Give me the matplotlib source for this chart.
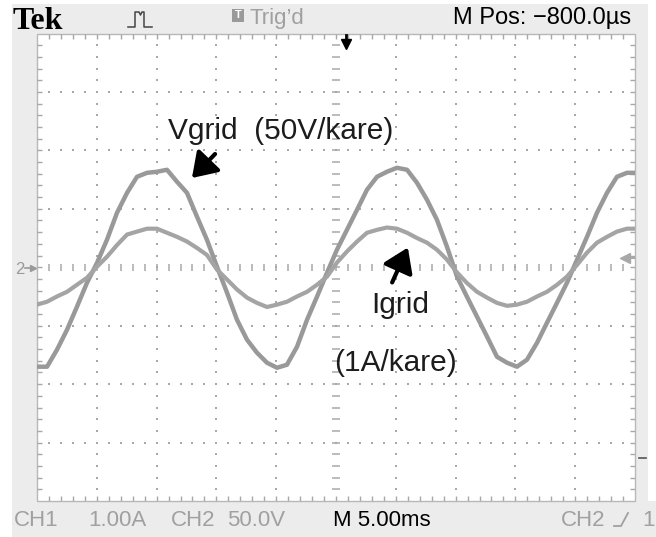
import matplotlib
matplotlib.use("Agg")
import matplotlib.pyplot as plt
from matplotlib.patches import Rectangle, FancyArrowPatch
import numpy as np

# ---------------- data (read from the screen) ----------------
# time in ms from the left edge of the screen (5 ms/div, 10 div)
t_ms = [0.00, 0.84, 1.67, 2.51, 3.34, 4.18, 5.02, 5.85, 6.69, 7.53,
        8.36, 9.20, 10.03, 10.87, 11.71, 12.54, 13.38, 14.21, 15.05, 15.89,
        16.72, 17.56, 18.39, 19.23, 20.07, 20.90, 21.74, 22.58, 23.41, 24.25,
        25.08, 25.92, 26.76, 27.59, 28.43, 29.26, 30.10, 30.94, 31.77, 32.61,
        33.44, 34.28, 35.12, 35.95, 36.79, 37.63, 38.46, 39.30, 40.13, 40.97,
        41.81, 42.64, 43.48, 44.31, 45.15, 45.99, 46.82, 47.66, 48.49, 49.33,
        50.00]
# CH2 : grid voltage in V (50 V/div)
vgrid_V = [-85.1, -85.1, -70.6, -53.5, -33.8, -13.3, 3.8, 23.5, 46.6, 63.7,
           77.4, 80.8, 81.7, 83.4, 73.1, 63.7, 43.2, 23.5, 0.4, -21.8,
           -44.9, -62.0, -73.1, -81.7, -86.0, -83.4, -68.0, -44.9, -25.2, -4.7,
           15.0, 32.1, 49.2, 66.3, 77.4, 81.7, 85.1, 83.4, 72.3, 57.7,
           40.6, 17.5, -8.1, -25.2, -42.3, -59.4, -76.6, -81.7, -85.1, -79.1,
           -64.6, -47.5, -30.4, -13.3, 6.4, 26.1, 46.6, 63.7, 77.4, 80.8,
           80.8]
# CH1 : grid current in A (1 A/div)
igrid_A = [-0.64, -0.59, -0.50, -0.42, -0.30, -0.18, 0.01, 0.18, 0.38, 0.56,
           0.61, 0.66, 0.66, 0.59, 0.52, 0.44, 0.33, 0.21, -0.04, -0.21,
           -0.38, -0.52, -0.61, -0.68, -0.64, -0.59, -0.50, -0.42, -0.30, -0.16,
           0.08, 0.27, 0.44, 0.59, 0.64, 0.68, 0.66, 0.59, 0.50, 0.42,
           0.30, 0.13, -0.09, -0.27, -0.42, -0.52, -0.61, -0.66, -0.64, -0.59,
           -0.50, -0.42, -0.30, -0.16, 0.04, 0.25, 0.42, 0.52, 0.61, 0.66,
           0.66]

time_per_div = 5.0     # ms
ch2_per_div = 50.0     # V
ch1_per_div = 1.0      # A

# ---------------- figure ----------------
W, H = 656, 537
fig = plt.figure(figsize=(W / 100, H / 100), dpi=100)
fig.patch.set_facecolor("white")

bg = fig.add_axes([0, 0, 1, 1])
bg.set_xlim(0, W)
bg.set_ylim(H, 0)
bg.axis("off")

GREY_BG = "#ececec"
bg.add_patch(Rectangle((12, 4), 636, 533, facecolor=GREY_BG, edgecolor="none"))
bg.add_patch(Rectangle((12, 501), 644, 36, facecolor=GREY_BG, edgecolor="none"))

L, R, T, B = 37, 635, 33.5, 501
pos = [L / W, (H - B) / H, (R - L) / W, (B - T) / H]
bg.add_patch(Rectangle((L, T), R - L, B - T, facecolor="white", edgecolor="#b8b8b8", lw=1.0, zorder=2))

# graticule axes in divisions
g = fig.add_axes(pos)
g.set_xlim(0, 10)
g.set_ylim(-4, 4)
g.axis("off")
g.patch.set_alpha(0)
DOT = "#a8a8a8"
xs, ys = [], []
for xv in range(1, 10):
    if xv == 5:
        continue
    for k in range(1, 40):
        xs.append(xv); ys.append(-4 + 0.2 * k)
for yv in range(-3, 4):
    if yv == 0:
        continue
    for k in range(1, 50):
        xs.append(0.2 * k); ys.append(yv)
g.scatter(xs, ys, s=1.8, c=DOT, marker="s", linewidths=0)
# center cross ticks
for k in range(1, 50):
    g.plot([0.2 * k, 0.2 * k], [-0.06, 0.06], color=DOT, lw=1.1, solid_capstyle="butt")
for k in range(1, 40):
    g.plot([5 - 0.06, 5 + 0.06], [-4 + 0.2 * k] * 2, color=DOT, lw=1.1, solid_capstyle="butt")
# border ticks
for k in range(1, 50):
    x = 0.2 * k
    g.plot([x, x], [4, 4 - 0.09], color=DOT, lw=1.0, solid_capstyle="butt")
    g.plot([x, x], [-4, -4 + 0.09], color=DOT, lw=1.0, solid_capstyle="butt")
for k in range(1, 40):
    y = -4 + 0.2 * k
    g.plot([0, 0.09], [y, y], color=DOT, lw=1.0, solid_capstyle="butt")
    g.plot([10, 10 - 0.09], [y, y], color=DOT, lw=1.0, solid_capstyle="butt")

# CH2 (voltage) axes
av = fig.add_axes(pos, label="vgrid")
av.set_xlim(0, 10 * time_per_div)
av.set_ylim(-4 * ch2_per_div, 4 * ch2_per_div)
av.axis("off")
av.patch.set_alpha(0)
av.plot(t_ms, vgrid_V, color="#999999", lw=3.2, solid_joinstyle="round",
        solid_capstyle="round", zorder=3)

# CH1 (current) axes
ai = fig.add_axes(pos, label="igrid")
ai.set_xlim(0, 10 * time_per_div)
ai.set_ylim(-4 * ch1_per_div, 4 * ch1_per_div)
ai.axis("off")
ai.patch.set_alpha(0)
ai.plot(t_ms, igrid_A, color="#a4a4a4", lw=3.0, solid_joinstyle="round",
        solid_capstyle="round", zorder=3)

# ---------------- overlay texts (pixel coords) ----------------
top = fig.add_axes([0, 0, 1, 1], label="overlay")
top.set_xlim(0, W)
top.set_ylim(H, 0)
top.axis("off")
top.patch.set_alpha(0)

NARROW = ["Liberation Sans Narrow", "Liberation Sans", "DejaVu Sans"]
SANS = ["Liberation Sans", "DejaVu Sans"]

top.text(13, 29, "Tek", family=["Liberation Serif", "DejaVu Serif"], weight="bold",
         fontsize=23, color="black", va="baseline", ha="left")
# acquisition icon
top.plot([128, 135, 135, 139, 140.5, 142, 144, 144, 152],
         [27, 27, 12, 12, 15, 12, 12, 27, 27], color="#444444", lw=1.1)
# trigger status
top.add_patch(Rectangle((232, 9), 12, 13, facecolor="#9a9a9a", edgecolor="none"))
top.text(238, 15.5, "T", fontsize=8, color="white", weight="bold", ha="center", va="center", family=SANS)
top.text(250, 24, "Trig\u2019d", family=NARROW, fontsize=16, color="#a0a0a0", va="baseline")
top.text(453, 24, "M Pos: \u2212800.0\u00b5s", family=NARROW, fontsize=17, color="black", va="baseline")

# trigger position marker
top.plot([346, 346], [35, 42], color="black", lw=2.0)
top.plot([346], [44], marker="v", color="black", markersize=7)

# ground marker 2
top.text(15, 274, "2", family=NARROW, fontsize=12, color="#9a9a9a", va="baseline")
top.plot([25, 33], [268, 268], color="#9a9a9a", lw=1.2)
top.plot([33], [268], marker=">", color="#9a9a9a", markersize=5)
# trigger level marker
top.plot([626, 634], [258, 258], color="#a8a8a8", lw=1.5)
top.plot([625], [258], marker="<", color="#a8a8a8", markersize=7)
top.plot([639, 646], [458, 458], color="#555555", lw=1.2)

# annotations
FS = 21.5
top.text(168, 139, "Vgrid  (50V/kare)", family=SANS, fontsize=FS, color="#1c1c1c", va="baseline")
top.add_patch(FancyArrowPatch((217, 152), (190, 180), arrowstyle="-|>,head_length=9,head_width=6",
                              mutation_scale=1.6, color="black", lw=3.0))
top.text(371, 313, "Igrid", family=SANS, fontsize=FS, color="#1c1c1c", va="baseline")
top.text(334, 371, "(1A/kare)", family=SANS, fontsize=FS, color="#1c1c1c", va="baseline")
top.add_patch(FancyArrowPatch((391, 285), (409, 245), arrowstyle="-|>,head_length=9,head_width=6",
                              mutation_scale=1.6, color="black", lw=3.0))

# bottom status bar
SB = 526
top.text(14, SB, "CH1", family=NARROW, fontsize=16, color="#a0a0a0", va="baseline")
top.text(88, SB, "1.00A", family=NARROW, fontsize=16, color="#a0a0a0", va="baseline")
top.text(171, SB, "CH2", family=NARROW, fontsize=16, color="#a0a0a0", va="baseline")
top.text(227, SB, "50.0V", family=NARROW, fontsize=16, color="#a0a0a0", va="baseline")
top.text(333, SB, "M 5.00ms", family=NARROW, fontsize=16, color="black", va="baseline")
top.text(561, SB, "CH2", family=NARROW, fontsize=16, color="#a0a0a0", va="baseline")
top.plot([614, 621, 628], [SB, SB, SB - 13], color="#a0a0a0", lw=1.3)
top.text(642, SB, "1", family=NARROW, fontsize=16, color="#a0a0a0", va="baseline")

fig.savefig("out.png", dpi=100, facecolor=fig.get_facecolor())
